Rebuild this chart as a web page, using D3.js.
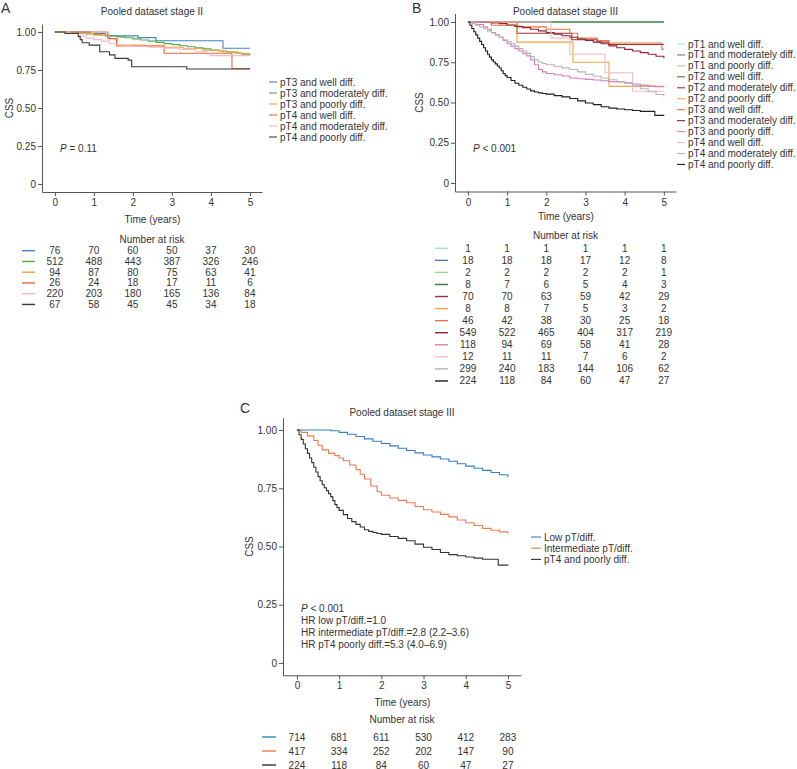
<!DOCTYPE html>
<html><head><meta charset="utf-8">
<script src="https://cdn.jsdelivr.net/npm/d3@7"></script>
<style>
body{margin:0;background:#fff;}
svg text{font-family:"Liberation Sans",Arial,sans-serif;fill:#333;}
</style></head>
<body><svg id="chart" width="797" height="769"></svg>
<script>
// ---------------- DATA ----------------
const timeTicks = [0, 1, 2, 3, 4, 5];
const cssTicks = [0, 0.25, 0.5, 0.75, 1];

// Panel A: Pooled dataset stage II
const namesA = ["pT3 and well diff.", "pT3 and moderately diff.", "pT3 and poorly diff.", "pT4 and well diff.", "pT4 and moderately diff.", "pT4 and poorly diff."];
const colorsA = ["#3f86c4", "#5aaa4a", "#f2a340", "#e8663f", "#f6b8c8", "#3a3a3a"];
const A_pT3_well = [[0,1],[0.9,0.99],[1.3,0.975],[2.13,0.963],[2.59,0.943],[4.31,0.893],[5,0.893]];
const A_pT3_mod = [[0,1],[0.2,0.998],[0.4,0.996],[0.6,0.992],[0.8,0.988],[1.0,0.984],[1.2,0.979],[1.4,0.974],[1.6,0.968],[1.8,0.962],[2.0,0.955],[2.2,0.948],[2.4,0.94],[2.6,0.932],[2.8,0.924],[3.0,0.917],[3.2,0.91],[3.4,0.903],[3.6,0.896],[3.8,0.889],[4.0,0.882],[4.2,0.875],[4.4,0.869],[4.6,0.862],[4.8,0.855],[5,0.848]];
const A_pT3_poor = [[0,1],[0.5,0.99],[1.0,0.98],[1.4,0.955],[1.6,0.915],[2.3,0.91],[2.8,0.9],[3.3,0.89],[3.8,0.88],[4.3,0.87],[4.7,0.86],[5,0.86]];
const A_pT4_well = [[0,1],[1.36,0.958],[1.58,0.908],[2.8,0.86],[4.54,0.76],[5,0.76]];
const A_pT4_mod = [[0,1],[0.4,0.99],[0.6,0.975],[0.8,0.96],[1.0,0.95],[1.2,0.94],[1.4,0.925],[1.6,0.915],[1.8,0.91],[2.0,0.905],[2.4,0.9],[2.8,0.893],[3.2,0.885],[3.6,0.87],[3.9,0.855],[4.0,0.845],[5,0.845]];
const A_pT4_poor = [[0,1],[0.26,0.99],[0.6,0.97],[0.65,0.95],[0.7,0.93],[0.88,0.914],[1.15,0.87],[1.4,0.85],[1.54,0.827],[1.88,0.815],[1.97,0.772],[3.38,0.757],[5,0.757]];
const riskA = [
  [76, 70, 60, 50, 37, 30],
  [512, 488, 443, 387, 326, 246],
  [94, 87, 80, 75, 63, 41],
  [26, 24, 18, 17, 11, 6],
  [220, 203, 180, 165, 136, 84],
  [67, 58, 45, 45, 34, 18]
];

// Panel B: Pooled dataset stage III
const namesB = ["pT1 and well diff.", "pT1 and moderately diff.", "pT1 and poorly diff.", "pT2 and well diff.", "pT2 and moderately diff.", "pT2 and poorly diff.", "pT3 and well diff.", "pT3 and moderately diff.", "pT3 and poorly diff.", "pT4 and well diff.", "pT4 and moderately diff.", "pT4 and poorly diff."];
const colorsB = ["#a6dce6", "#4f7fb5", "#98d49a", "#3b7a3b", "#a02c2c", "#f5a33f", "#ea7046", "#8e2434", "#d77cbc", "#f7b8cc", "#b5b5b5", "#1f1f1f"];
const B_pT1_well = [[0,1],[5,1]];
const B_pT1_mod = [[0,1],[5,1]];
const B_pT1_poor = [[0,1],[5,1]];
const B_pT2_well = [[0,1],[5,1]];
const B_pT2_mod = [[0,1],[1.25,0.93],[2.1,0.93],[2.65,0.89],[3.3,0.875],[3.6,0.86],[5,0.86]];
const B_pT2_poor = [[0,1],[1.25,0.875],[2.68,0.75],[3.6,0.6],[5,0.6]];
const B_pT3_well = [[0,1],[0.6,0.98],[1.25,0.97],[2.0,0.955],[2.6,0.93],[2.8,0.9],[3.3,0.885],[3.6,0.87],[4.95,0.83],[5,0.83]];
const B_pT3_mod = [[0,1],[0.4,0.998],[0.6,0.995],[0.8,0.99],[1.0,0.982],[1.2,0.973],[1.4,0.965],[1.6,0.955],[1.8,0.945],[2.0,0.935],[2.2,0.925],[2.4,0.915],[2.6,0.905],[2.8,0.895],[3.0,0.885],[3.2,0.875],[3.4,0.865],[3.6,0.852],[3.8,0.84],[4.0,0.83],[4.2,0.82],[4.4,0.81],[4.6,0.8],[4.8,0.787],[5,0.775]];
const B_pT3_poor = [[0,1],[0.2,0.985],[0.4,0.97],[0.5,0.955],[0.6,0.935],[0.7,0.92],[0.8,0.905],[0.9,0.885],[1.0,0.865],[1.1,0.85],[1.2,0.835],[1.3,0.82],[1.4,0.805],[1.5,0.79],[1.6,0.765],[1.7,0.735],[1.8,0.705],[1.9,0.69],[2.0,0.68],[2.2,0.672],[2.4,0.665],[2.6,0.652],[2.8,0.648],[3.0,0.644],[3.2,0.64],[3.4,0.635],[3.6,0.63],[3.8,0.627],[4.0,0.622],[4.2,0.615],[4.4,0.608],[4.6,0.602],[4.8,0.598],[5,0.594]];
const B_pT4_well = [[0,1],[2.12,0.9],[2.6,0.8],[3.5,0.685],[4.2,0.57],[5,0.57]];
const B_pT4_mod = [[0,1],[0.1,0.99],[0.2,0.98],[0.3,0.97],[0.4,0.958],[0.5,0.945],[0.6,0.932],[0.7,0.92],[0.8,0.905],[0.9,0.89],[1.0,0.878],[1.1,0.865],[1.2,0.85],[1.3,0.835],[1.4,0.82],[1.5,0.805],[1.6,0.785],[1.7,0.765],[1.8,0.752],[1.9,0.742],[2.0,0.735],[2.2,0.725],[2.4,0.715],[2.6,0.705],[2.8,0.69],[3.0,0.675],[3.2,0.663],[3.4,0.652],[3.6,0.641],[3.8,0.63],[4.0,0.62],[4.2,0.603],[4.4,0.585],[4.6,0.567],[4.8,0.55],[5,0.538]];
const pT4poorCurve = [[0,1],[0.05,0.98],[0.1,0.96],[0.15,0.94],[0.2,0.92],[0.25,0.9],[0.3,0.88],[0.35,0.86],[0.4,0.84],[0.45,0.82],[0.5,0.8],[0.55,0.782],[0.6,0.765],[0.65,0.752],[0.7,0.74],[0.75,0.727],[0.8,0.714],[0.85,0.697],[0.9,0.68],[0.95,0.667],[1.0,0.655],[1.1,0.637],[1.2,0.62],[1.3,0.607],[1.4,0.595],[1.5,0.584],[1.6,0.572],[1.7,0.565],[1.8,0.56],[1.9,0.556],[2.0,0.552],[2.2,0.543],[2.4,0.535],[2.6,0.525],[2.8,0.51],[3.0,0.497],[3.2,0.487],[3.4,0.474],[3.6,0.465],[3.8,0.46],[4.0,0.455],[4.2,0.45],[4.4,0.445],[4.77,0.42],[5,0.418]];
const B_pT4_poor = pT4poorCurve;
const riskB = [
  [1, 1, 1, 1, 1, 1],
  [18, 18, 18, 17, 12, 8],
  [2, 2, 2, 2, 2, 1],
  [8, 7, 6, 5, 4, 3],
  [70, 70, 63, 59, 42, 29],
  [8, 8, 7, 5, 3, 2],
  [46, 42, 38, 30, 25, 18],
  [549, 522, 465, 404, 317, 219],
  [118, 94, 69, 58, 41, 28],
  [12, 11, 11, 7, 6, 2],
  [299, 240, 183, 144, 106, 62],
  [224, 118, 84, 60, 47, 27]
];

// Panel C: Pooled dataset stage III (grouped)
const namesC = ["Low pT/diff.", "Intermediate pT/diff.", "pT4 and poorly diff."];
const colorsC = ["#3480c4", "#ee7a52", "#333333"];
const C_low = [[0,1],[0.7,1],[0.8,0.997],[1.0,0.99],[1.2,0.982],[1.4,0.972],[1.6,0.962],[1.8,0.952],[2.0,0.942],[2.2,0.932],[2.4,0.922],[2.6,0.912],[2.8,0.902],[3.0,0.893],[3.2,0.885],[3.4,0.876],[3.6,0.866],[3.8,0.855],[4.0,0.845],[4.2,0.836],[4.4,0.827],[4.6,0.818],[4.8,0.808],[5,0.797]];
const C_int = [[0,1],[0.1,0.99],[0.25,0.975],[0.4,0.955],[0.5,0.935],[0.6,0.915],[0.75,0.9],[0.9,0.89],[1.0,0.88],[1.1,0.868],[1.25,0.85],[1.4,0.83],[1.5,0.81],[1.6,0.79],[1.75,0.76],[1.9,0.735],[2.0,0.72],[2.2,0.708],[2.4,0.698],[2.6,0.688],[2.8,0.672],[3.0,0.658],[3.2,0.648],[3.4,0.638],[3.6,0.627],[3.8,0.614],[4.0,0.602],[4.2,0.59],[4.4,0.578],[4.6,0.57],[4.8,0.563],[5,0.556]];
const C_poor = pT4poorCurve;
const riskC = [
  [714, 681, 611, 530, 412, 283],
  [417, 334, 252, 202, 147, 90],
  [224, 118, 84, 60, 47, 27]
];

// ---------------- DRAW ----------------
const svg = d3.select("#chart");

function drawPanel(p) {
  const g = svg.append("g");
  const x = d3.scaleLinear().domain([-0.33, 5.31]).range(p.xr);
  const y = d3.scaleLinear().domain([-0.053, 1.053]).range(p.yr);

  const xa = g.append("g").attr("transform", `translate(0,${p.yr[0]})`)
    .call(d3.axisBottom(x).tickValues(timeTicks).tickSize(4).tickSizeOuter(0).tickPadding(3).tickFormat(d3.format("d")));
  const ya = g.append("g").attr("transform", `translate(${p.xr[0]},0)`)
    .call(d3.axisLeft(y).tickValues(cssTicks).tickSize(4).tickSizeOuter(0).tickPadding(2)
      .tickFormat(d => d === 0 ? "0" : d3.format(".2f")(d)));
  [xa, ya].forEach(a => {
    a.selectAll("path,line").attr("stroke", "#555");
    a.selectAll("text").style("font-size", "10px").style("fill", "#333");
  });

  const line = d3.line().x(d => x(d[0])).y(d => y(d[1])).curve(d3.curveStepAfter);
  p.series.forEach((s, i) => {
    g.append("path").datum(s).attr("d", line).attr("fill", "none")
      .attr("stroke", p.colors[i]).attr("stroke-width", 1.1);
  });

  const cx = (p.xr[0] + p.xr[1]) / 2;
  g.append("text").attr("x", cx).attr("y", p.titleY).attr("text-anchor", "middle")
    .attr("dominant-baseline", "central").style("font-size", "10px").text(p.title);
  g.append("text").attr("x", p.letter[0]).attr("y", p.letter[1]).attr("dominant-baseline", "central")
    .style("font-size", "14px").text(p.letterText);
  g.append("text").attr("transform", `translate(${p.cssX},${y(0.5)}) rotate(-90)`)
    .attr("text-anchor", "middle").attr("dominant-baseline", "central").style("font-size", "10px").text("CSS");
  g.append("text").attr("x", x(2.5)).attr("y", p.timeY).attr("text-anchor", "middle")
    .attr("dominant-baseline", "central").style("font-size", "10px").text("Time (years)");

  // P value / annotations
  p.notes.forEach((t, i) => {
    const tx = g.append("text").attr("x", p.noteX).attr("y", p.noteY + i * p.noteDy)
      .attr("dominant-baseline", "central").style("font-size", "10px");
    if (i === 0) {
      tx.append("tspan").style("font-style", "italic").text("P");
      tx.append("tspan").text(t);
    } else tx.text(t);
  });

  // legend
  p.names.forEach((n, i) => {
    const ly = p.legY + i * p.legDy;
    g.append("line").attr("x1", p.legX).attr("x2", p.legX + p.legLen).attr("y1", ly).attr("y2", ly)
      .attr("stroke", p.colors[i]).attr("stroke-width", 1.1);
    g.append("text").attr("x", p.legX + p.legLen + 3).attr("y", ly).attr("dominant-baseline", "central")
      .style("font-size", "10px").text(n);
  });

  // risk table
  g.append("text").attr("x", cx).attr("y", p.riskTitleY).attr("text-anchor", "middle")
    .attr("dominant-baseline", "central").style("font-size", "10px").text("Number at risk");
  p.risk.forEach((row, i) => {
    const ry = p.riskY + i * p.riskDy;
    g.append("line").attr("x1", p.riskMark[0]).attr("x2", p.riskMark[1]).attr("y1", ry).attr("y2", ry)
      .attr("stroke", p.colors[i]).attr("stroke-width", 1.4);
    row.forEach((v, j) => {
      g.append("text").attr("x", x(timeTicks[j])).attr("y", ry).attr("text-anchor", "middle")
        .attr("dominant-baseline", "central").style("font-size", "10px").text(v);
    });
  });
}

drawPanel({
  xr: [42, 262], yr: [192, 24], title: "Pooled dataset stage II", titleY: 11,
  letter: [1, 8], letterText: "A", cssX: 9, timeY: 219,
  series: [A_pT3_well, A_pT3_mod, A_pT3_poor, A_pT4_well, A_pT4_mod, A_pT4_poor],
  colors: colorsA, names: namesA,
  notes: [" = 0.11"], noteX: 60, noteY: 148, noteDy: 12,
  legX: 269, legLen: 8, legY: 82, legDy: 11,
  risk: riskA, riskTitleY: 239, riskY: 250.7, riskDy: 10.75, riskMark: [22, 35]
});

drawPanel({
  xr: [455, 676], yr: [191.5, 13.5], title: "Pooled dataset stage III", titleY: 11,
  letter: [412, 8], letterText: "B", cssX: 419, timeY: 216,
  series: [B_pT1_well, B_pT1_mod, B_pT1_poor, B_pT2_well, B_pT2_mod, B_pT2_poor, B_pT3_well, B_pT3_mod, B_pT3_poor, B_pT4_well, B_pT4_mod, B_pT4_poor],
  colors: colorsB, names: namesB,
  notes: [" < 0.001"], noteX: 473, noteY: 148, noteDy: 12,
  legX: 677, legLen: 8, legY: 44, legDy: 10.95,
  risk: riskB, riskTitleY: 235, riskY: 248.3, riskDy: 12.06, riskMark: [435, 448]
});

drawPanel({
  xr: [283, 521], yr: [675.3, 417.7], title: "Pooled dataset stage III", titleY: 412,
  letter: [240, 408], letterText: "C", cssX: 249, timeY: 702,
  series: [C_low, C_int, C_poor],
  colors: colorsC, names: namesC,
  notes: [" < 0.001", "HR low pT/diff.=1.0", "HR intermediate pT/diff.=2.8 (2.2\u20133.6)", "HR pT4 poorly diff.=5.3 (4.0\u20136.9)"],
  noteX: 301, noteY: 608, noteDy: 12.3,
  legX: 531, legLen: 10, legY: 537, legDy: 11.2,
  risk: riskC, riskTitleY: 719, riskY: 737, riskDy: 14, riskMark: [262, 276]
});
</script></body></html>
